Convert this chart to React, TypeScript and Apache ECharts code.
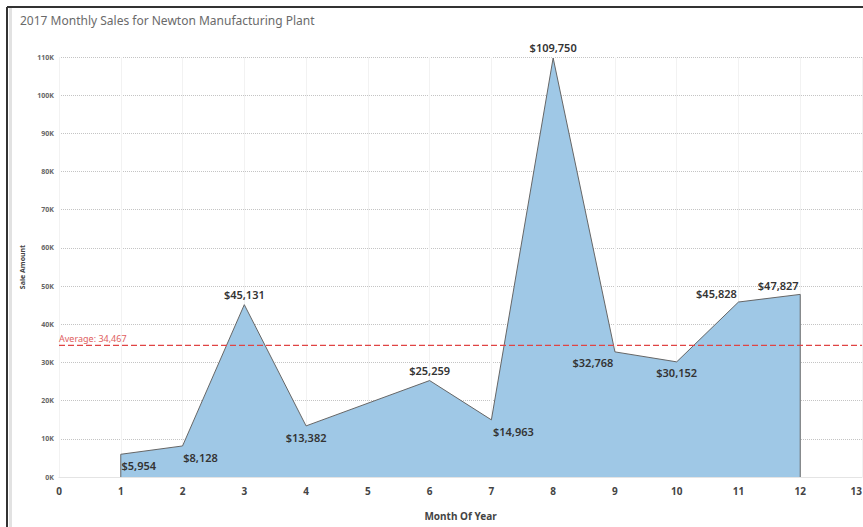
import React, { useEffect, useRef } from "react";
import * as echarts from "echarts";

// Monthly sales for 2017 (month 5 has no recorded sales)
const months = [1, 2, 3, 4, 6, 7, 8, 9, 10, 11, 12];
const sales = [5954, 8128, 45131, 13382, 25259, 14963, 109750, 32768, 30152, 45828, 47827];

// Axis ticks
const monthTicks = [0, 1, 2, 3, 4, 5, 6, 7, 8, 9, 10, 11, 12, 13];
const salesTicks = [0, 10000, 20000, 30000, 40000, 50000, 60000, 70000, 80000, 90000, 100000, 110000];

// Where each value label sits relative to its point (pixels)
const labelOffsets: [number, number][] = [
  [18, 11], [18, 12], [0, -10], [0, 12], [0, -10], [22, 12],
  [0, -10], [-22, 11], [0, 11], [-22, -9], [-22, -9],
];

const AVG_LINE = "#e04444";
const AVG_TEXT = "#e06060";
const fmtMoney = (v: number) => "$" + v.toLocaleString("en-US");
const average = sales.reduce((a, b) => a + b, 0) / sales.length;

export default function App() {
  const ref = useRef<HTMLDivElement>(null);

  useEffect(() => {
    if (!ref.current) return;
    const chart = echarts.init(ref.current, null, { renderer: "svg" });

    const xMin = monthTicks[0];
    const xMax = monthTicks[monthTicks.length - 1];

    const points: any[] = months.map((m, i) => ({
      value: [m, sales[i]],
      label: {
        show: true,
        position: "inside",
        offset: labelOffsets[i],
        formatter: () => fmtMoney(sales[i]),
      },
    }));
    // close the area with vertical edges down to the baseline
    const lineData = [
      { value: [months[0], 0], label: { show: false } },
      ...points,
      { value: [months[months.length - 1], 0], label: { show: false } },
    ];

    chart.setOption({
      animation: false,
      textStyle: { fontFamily: "Noto Sans" },
      title: {
        text: "2017 Monthly Sales for Newton Manufacturing Plant",
        left: 15,
        top: 9,
        textStyle: { fontSize: 12, fontWeight: "normal", color: "#6a6a6a", fontFamily: "Noto Sans" },
      },
      grid: {
        left: 59,
        top: 57,
        width: 803,
        height: 420,
        containLabel: false,
        outerBoundsMode: "none",
      },
      xAxis: {
        type: "value",
        min: xMin,
        max: xMax,
        interval: 1,
        name: "Month Of Year",
        nameLocation: "middle",
        nameGap: 34,
        nameTextStyle: { fontSize: 10, fontWeight: "bold", color: "#444" },
        axisLine: { show: true, lineStyle: { color: "#e4e4e4" } },
        axisTick: { show: false },
        axisLabel: { fontSize: 10, fontWeight: "bold", color: "#444", margin: 9, alignMaxLabel: "right" },
        splitLine: { show: true, lineStyle: { color: "#f2f2f2", width: 1 } },
      },
      yAxis: {
        type: "value",
        min: salesTicks[0],
        max: salesTicks[salesTicks.length - 1],
        interval: salesTicks[1] - salesTicks[0],
        name: "Sale Amount",
        nameLocation: "middle",
        nameGap: 30,
        nameTextStyle: { fontSize: 7, fontWeight: "bold", color: "#444" },
        axisLine: { show: false },
        axisTick: { show: false },
        axisLabel: {
          fontSize: 7,
          fontWeight: "bold",
          color: "#666",
          margin: 5,
          formatter: (v: number) => v / 1000 + "K",
        },
        splitLine: { show: true, lineStyle: { color: "#c4c4c4", type: [1, 1], width: 1 } },
      },
      series: [
        {
          type: "line",
          data: lineData,
          symbol: "circle",
          symbolSize: 0.1,
          itemStyle: { color: "#666" },
          lineStyle: { color: "#666", width: 1 },
          areaStyle: { color: "#9fc8e6", opacity: 1 },
          label: { fontSize: 11, color: "#333", fontWeight: 600 },
          z: 3,
        },
        {
          // average reference line across the full axis
          type: "line",
          color: AVG_LINE,
          data: [
            {
              value: [xMin, average],
              label: {
                show: true,
                position: "right",
                distance: 0,
                offset: [0, -7],
                formatter: () => "Average: " + Math.round(average).toLocaleString("en-US"),
                color: AVG_TEXT,
                fontSize: 9,
              },
            },
            { value: [xMax, average], label: { show: false } },
          ],
          symbol: "circle",
          symbolSize: 0.1,
          itemStyle: { color: AVG_LINE },
          lineStyle: { color: AVG_LINE, type: [6, 3], width: 1.2 },
          silent: true,
          z: 4,
        },
      ],
      graphic: [
        { type: "line", shape: { x1: 7, y1: 7, x2: 863, y2: 7 }, style: { stroke: "#333", lineWidth: 2 } },
        { type: "line", shape: { x1: 7, y1: 7, x2: 7, y2: 527 }, style: { stroke: "#333", lineWidth: 2 } },
        { type: "line", shape: { x1: 10.5, y1: 8, x2: 10.5, y2: 527 }, style: { stroke: "#e2e2e2", lineWidth: 3 } },
      ],
    });

    return () => chart.dispose();
  }, []);

  return (
    <div
      ref={ref}
      style={{ position: "fixed", left: 0, top: 0, width: 863, height: 527, background: "#fff" }}
    />
  );
}
